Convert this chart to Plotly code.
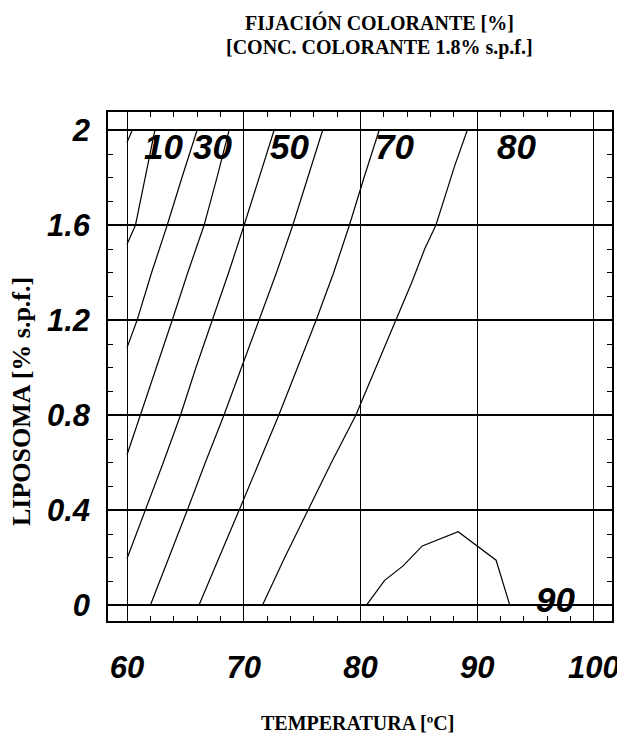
import plotly.graph_objects as go

# ---- data ----
# contour lines: temperature (ºC) vs liposome (% s.p.f.)
line_a_t = [60.0, 60.45]
line_a_l = [1.95, 2.0]

line_b_t = [60.0, 60.72, 61.55, 62.38]
line_b_l = [1.52, 1.6, 1.8, 2.0]

line_c_t = [60.0, 60.86, 62.1, 63.44, 64.7, 66.0]
line_c_l = [1.085, 1.2, 1.4, 1.6, 1.8, 2.0]

line_d_t = [60.0, 61.15, 62.5, 63.87, 65.2, 66.6, 67.7, 68.74]
line_d_l = [0.634, 0.8, 1.0, 1.2, 1.4, 1.6, 1.8, 2.0]

line_e_t = [60.0, 61.58, 63.1, 64.58, 65.9, 67.3, 68.7, 70.03, 71.3, 72.6]
line_e_l = [0.197, 0.4, 0.6, 0.8, 1.0, 1.2, 1.4, 1.6, 1.8, 2.0]

line_f_t = [62.0, 63.6, 65.16, 66.7, 68.3, 69.8, 71.3, 72.8, 74.2, 75.5, 76.76]
line_f_l = [0.0, 0.2, 0.4, 0.6, 0.8, 1.0, 1.2, 1.4, 1.6, 1.8, 2.0]

line_g_t = [66.16, 67.9, 69.6, 71.3, 73.0, 74.6, 76.2, 77.7, 79.05, 80.3, 81.6]
line_g_l = [0.0, 0.2, 0.4, 0.6, 0.8, 1.0, 1.2, 1.4, 1.6, 1.8, 2.0]

line_h_t = [71.6, 73.5, 75.5, 77.5, 79.6, 81.3, 83.06, 84.4, 85.5, 86.46, 87.3, 88.07, 89.15]
line_h_l = [0.0, 0.2, 0.4, 0.6, 0.8, 1.0, 1.2, 1.36, 1.5, 1.6, 1.73, 1.85, 2.0]

line_90_t = [80.5, 82.07, 83.65, 85.3, 88.37, 91.62, 92.8]
line_90_l = [0.0, 0.105, 0.166, 0.25, 0.31, 0.19, 0.0]

# contour labels
label_text = ["10", "30", "50", "70", "80", "90"]
label_t = [63.15, 67.3, 73.9, 82.9, 93.4, 96.75]
label_l = [1.93, 1.93, 1.93, 1.93, 1.93, 0.023]

# ticks
x_tickvals = [60, 70, 80, 90, 100]
x_ticktext = ["60", "70", "80", "90", "100"]
y_tickvals = [0, 0.4, 0.8, 1.2, 1.6, 2.0]
y_ticktext = ["0", "0.4", "0.8", "1.2", "1.6", "2"]

title_lines = ["FIJACIÓN COLORANTE [%]", "[CONC. COLORANTE 1.8% s.p.f.]"]
x_title = "TEMPERATURA [ºC]"
y_title = "LIPOSOMA [% s.p.f.]"

# ---- figure ----
fig = go.Figure()
lines = [
    (line_a_t, line_a_l), (line_b_t, line_b_l), (line_c_t, line_c_l),
    (line_d_t, line_d_l), (line_e_t, line_e_l), (line_f_t, line_f_l),
    (line_g_t, line_g_l), (line_h_t, line_h_l), (line_90_t, line_90_l),
]
for t, l in lines:
    fig.add_trace(go.Scatter(x=t, y=l, mode="lines",
                             line=dict(color="black", width=1.2),
                             showlegend=False, hoverinfo="skip"))

label_font = dict(family="Liberation Sans", size=35, color="black",
                  weight="bold", style="italic")
for txt, t, l in zip(label_text, label_t, label_l):
    fig.add_annotation(x=t, y=l, text=txt, showarrow=False,
                       font=label_font, xanchor="center", yanchor="middle")

tick_font = dict(family="Liberation Sans", size=31, color="black",
                 weight="bold", style="italic")
serif_font = dict(family="Liberation Serif", size=20, color="black", weight="bold")

# plot area on the page: x 108..612 px, y 112..621 px
def py(p):
    return (621 - p) / 509

def px(p):
    return (p - 108) / 504

fig.add_annotation(xref="paper", yref="paper", x=px(379), y=py(23),
                   text=title_lines[0], showarrow=False, font=serif_font,
                   xanchor="center", yanchor="middle")
fig.add_annotation(xref="paper", yref="paper", x=px(379), y=py(48),
                   text=title_lines[1], showarrow=False, font=serif_font,
                   xanchor="center", yanchor="middle")
fig.add_annotation(xref="paper", yref="paper", x=px(357), y=py(723),
                   text=x_title, showarrow=False, font=dict(serif_font, size=20),
                   xanchor="center", yanchor="middle")
fig.add_annotation(xref="paper", yref="paper", x=px(22), y=py(402),
                   text=y_title, showarrow=False, font=dict(serif_font, size=26),
                   textangle=-90, xanchor="center", yanchor="middle")

# the page body has an 8px margin, so the figure starts at (8, 8)
fig.update_layout(
    width=617, height=734,
    margin=dict(l=100, r=13, t=104, b=121, autoexpand=False),
    paper_bgcolor="white", plot_bgcolor="white",
    showlegend=False,
)
fig.update_xaxes(
    range=[58.37, 101.55], automargin=False,
    tickvals=x_tickvals, ticktext=x_ticktext, tickfont=tick_font,
    showgrid=True, gridcolor="black", gridwidth=1.2,
    zeroline=False, showline=True, linecolor="black", linewidth=1.5,
    mirror="allticks", ticks="inside", ticklen=6, tickcolor="black",
    minor=dict(dtick=2, tick0=60, ticks="inside", ticklen=5, tickcolor="black",
               showgrid=False),
    ticklabelstandoff=18,
)
fig.update_yaxes(
    range=[-0.066, 2.077], automargin=False,
    tickvals=y_tickvals, ticktext=y_ticktext, tickfont=tick_font,
    showgrid=True, gridcolor="black", gridwidth=2.4,
    zeroline=False, showline=True, linecolor="black", linewidth=1.5,
    mirror="allticks", ticks="inside", ticklen=6, tickcolor="black",
    minor=dict(dtick=0.1, tick0=0, ticks="inside", ticklen=5, tickcolor="black",
               showgrid=False),
    ticklabelstandoff=10,
)

fig.write_html("out.html")
